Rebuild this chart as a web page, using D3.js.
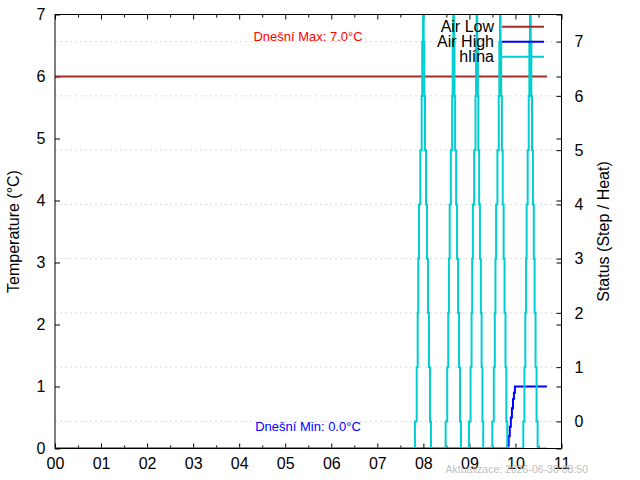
<!DOCTYPE html>
<html>
<head>
<meta charset="utf-8">
<script src="https://cdn.jsdelivr.net/npm/d3@7"></script>
<style>
  body { margin: 0; background: #fff; }
  svg text { font-family: "Liberation Sans", Arial, sans-serif; }
</style>
</head>
<body>
<div id="chart"></div>
<script>
// plot box (gnuplot-like layout)
const width = 640, height = 480;
const margin = {top: 14.5, right: 78.5, bottom: 31.5, left: 55};

// x = minutes since midnight
const hourTicks = [0, 60, 120, 180, 240, 300, 360, 420, 480, 540, 600, 660];
const hourLabels = ["00", "01", "02", "03", "04", "05", "06", "07", "08", "09", "10", "11"];
const halfHourTicks = [30, 90, 150, 210, 270, 330, 390, 450, 510, 570, 630];
const tempTicks = [0, 1, 2, 3, 4, 5, 6, 7];
const statusTicks = [0, 1, 2, 3, 4, 5, 6, 7];

const seriesNames = ["Air Low", "Air High", "hlína"];
const seriesColors = ["#a52a2a", "#0000ff", "#00ced1"];

// Air Low (temperature axis)
const lowTime = [0, 641];
const lowTemp = [6, 6];

// Air High (temperature axis)
const highTime = [0, 589.8, 591.2, 592.6, 594.0, 595.4, 596.8, 598.0, 599.3, 641];
const highTemp = [0, 0.05, 0.2, 0.35, 0.5, 0.65, 0.8, 0.9, 1.0, 1.0];

// hlína (status axis), stepped
const soilTime = [0,
  469.0, 471.3, 472.6, 473.3, 474.3, 476.0, 477.8, 478.5, 479.5,
  480.4, 481.2, 482.1, 483.4, 484.7, 486.0, 487.3, 488.6, 489.9,
  509.0, 511.1, 512.4, 513.3, 514.3, 515.8, 517.5, 518.2, 519.0,
  519.9, 520.6, 521.4, 522.7, 523.9, 525.2, 526.5, 527.7, 529.0,
  539.4, 541.5, 542.8, 543.6, 544.5, 546.2, 547.9, 548.7, 549.4,
  550.2, 551.0, 551.6, 552.7, 553.7, 554.9, 555.9, 557.0, 558.0,
  569.8, 571.8, 573.1, 573.9, 574.8, 576.5, 578.2, 579.0, 579.8,
  580.6, 581.4, 582.3, 583.4, 584.6, 585.8, 587.0, 588.1, 589.3,
  610.2, 611.7, 612.9, 613.8, 614.6, 615.9, 617.3, 618.1, 618.9,
  619.8, 620.7, 621.6, 622.8, 623.9, 625.0, 626.2, 627.5, 628.9,
  641];
const soilStatus = [-0.5,
  0, 1, 2, 3, 4, 5, 6, 7, 8,
  7, 6, 5, 4, 3, 2, 1, 0, -1,
  0, 1, 2, 3, 4, 5, 6, 7, 8,
  7, 6, 5, 4, 3, 2, 1, 0, -1,
  0, 1, 2, 3, 4, 5, 6, 7, 8,
  7, 6, 5, 4, 3, 2, 1, 0, -1,
  0, 1, 2, 3, 4, 5, 6, 7, 8,
  7, 6, 5, 4, 3, 2, 1, 0, -0.5,
  0, 1, 2, 3, 4, 5, 6, 7, 8,
  7, 6, 5, 4, 3, 2, 1, 0, -0.5,
  -0.5];

const maxLabel = "Dnešní Max: 7.0°C";
const minLabel = "Dnešní Min: 0.0°C";
const stamp = "Aktualizace: 2026-06-30 08:50";

const x0 = margin.left, x1 = width - margin.right;
const y0 = height - margin.bottom, y1 = margin.top;

const x = d3.scaleLinear().domain([0, 660]).range([x0, x1]);
const yT = d3.scaleLinear().domain([0, 7]).range([y0, y1]);
const yS = d3.scaleLinear().domain([-0.5, 7.5]).range([y0, y1]);

const svg = d3.select("#chart").append("svg")
  .attr("width", width)
  .attr("height", height);

svg.append("defs").append("clipPath").attr("id", "plot")
  .append("rect")
  .attr("x", x0).attr("y", y1)
  .attr("width", x1 - x0).attr("height", y0 - y1);

// grid on status ticks
svg.append("g").selectAll("line")
  .data(statusTicks)
  .enter().append("line")
  .attr("x1", x0).attr("x2", x1)
  .attr("y1", d => yS(d)).attr("y2", d => yS(d))
  .attr("stroke", "#dcdcdc")
  .attr("stroke-dasharray", "2,3");

// axes, ticks inside like gnuplot
const styleAxis = g => {
  g.select(".domain").remove();
  g.selectAll(".tick line").attr("stroke", "#000");
  g.selectAll("text").attr("font-size", "16px").attr("fill", "#000");
};

svg.append("g")
  .attr("transform", `translate(0,${y0})`)
  .call(d3.axisBottom(x).tickValues(hourTicks)
    .tickFormat((d, i) => hourLabels[i])
    .tickSizeInner(-5).tickSizeOuter(0).tickPadding(9))
  .call(styleAxis);
svg.append("g")
  .attr("transform", `translate(0,${y0})`)
  .call(d3.axisBottom(x).tickValues(halfHourTicks).tickFormat("")
    .tickSizeInner(-3).tickSizeOuter(0))
  .call(styleAxis);
svg.append("g")
  .attr("transform", `translate(0,${y1})`)
  .call(d3.axisTop(x).tickValues(hourTicks).tickFormat("")
    .tickSizeInner(-5).tickSizeOuter(0))
  .call(styleAxis);
svg.append("g")
  .attr("transform", `translate(0,${y1})`)
  .call(d3.axisTop(x).tickValues(halfHourTicks).tickFormat("")
    .tickSizeInner(-3).tickSizeOuter(0))
  .call(styleAxis);

svg.append("g")
  .attr("transform", `translate(${x0},0)`)
  .call(d3.axisLeft(yT).tickValues(tempTicks).tickFormat(d3.format("d"))
    .tickSizeInner(-5).tickSizeOuter(0).tickPadding(9.5))
  .call(styleAxis);
svg.append("g")
  .attr("transform", `translate(${x1},0)`)
  .call(d3.axisRight(yT).tickValues(tempTicks).tickFormat("")
    .tickSizeInner(-5).tickSizeOuter(0))
  .call(styleAxis);
svg.append("g")
  .attr("transform", `translate(${x1},0)`)
  .call(d3.axisRight(yS).tickValues(statusTicks).tickFormat(d3.format("d"))
    .tickSizeInner(-5).tickSizeOuter(0).tickPadding(13))
  .call(styleAxis);

// series
const lines = svg.append("g").attr("clip-path", "url(#plot)");
const stepLine = (xs, ys, yScale) => d3.line()
  .curve(d3.curveStepAfter)
  .x((d, i) => x(xs[i]))
  .y(d => yScale(d))(ys);

lines.append("path")
  .attr("d", stepLine(lowTime, lowTemp, yT))
  .attr("fill", "none").attr("stroke", seriesColors[0]).attr("stroke-width", 2);
lines.append("path")
  .attr("d", stepLine(highTime, highTemp, yT))
  .attr("fill", "none").attr("stroke", seriesColors[1]).attr("stroke-width", 2);
lines.append("path")
  .attr("d", stepLine(soilTime, soilStatus, yS))
  .attr("fill", "none").attr("stroke", seriesColors[2]).attr("stroke-width", 2);

// border
svg.append("rect")
  .attr("x", x0).attr("y", y1)
  .attr("width", x1 - x0).attr("height", y0 - y1)
  .attr("fill", "none").attr("stroke", "#000");

// labels
svg.append("text")
  .attr("transform", `translate(13,${(y0 + y1) / 2}) rotate(-90)`)
  .attr("text-anchor", "middle").attr("dy", "0.35em")
  .attr("font-size", "16px")
  .text("Temperature (°C)");
svg.append("text")
  .attr("transform", `translate(603,${(y0 + y1) / 2}) rotate(-90)`)
  .attr("text-anchor", "middle").attr("dy", "0.35em")
  .attr("font-size", "16px")
  .text("Status (Step / Heat)");

svg.append("text")
  .attr("x", 308).attr("y", 41)
  .attr("text-anchor", "middle")
  .attr("font-size", "13px").attr("fill", "#ff0000")
  .text(maxLabel);
svg.append("text")
  .attr("x", 308).attr("y", 431)
  .attr("text-anchor", "middle")
  .attr("font-size", "13px").attr("fill", "#0000ff")
  .text(minLabel);

svg.append("text")
  .attr("x", 588).attr("y", 473)
  .attr("text-anchor", "end")
  .attr("font-size", "10.5px").attr("fill", "#c0c0c0")
  .text(stamp);

// legend
const legend = svg.append("g").selectAll("g")
  .data(seriesNames)
  .enter().append("g")
  .attr("transform", (d, i) => `translate(0,${26.7 + i * 15})`);
legend.append("text")
  .attr("x", 494).attr("dy", "0.35em")
  .attr("text-anchor", "end")
  .attr("font-size", "16px")
  .text(d => d);
legend.append("line")
  .attr("x1", 502).attr("x2", 544)
  .attr("stroke", (d, i) => seriesColors[i])
  .attr("stroke-width", 2);
</script>
</body>
</html>
